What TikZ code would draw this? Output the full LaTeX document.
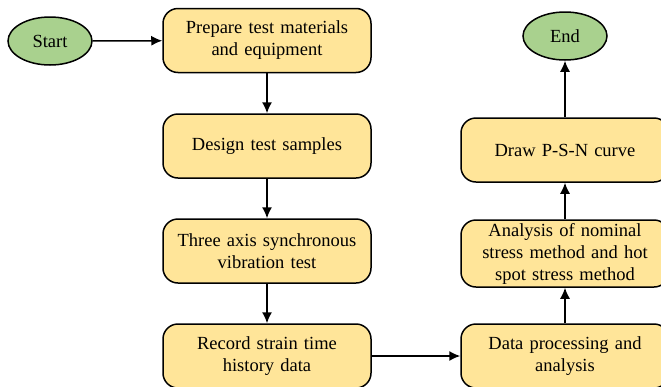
\documentclass[tikz,border=0pt]{standalone}
\usepackage{fontspec}
\setmainfont{Liberation Serif}
\usepackage{tikz}
\usetikzlibrary{shapes}
\usetikzlibrary{shapes.geometric}
\usetikzlibrary{arrows.meta}

\definecolor{boxyellow}{RGB}{255,229,153}
\definecolor{endgreen}{RGB}{169,209,142}

\begin{document}
\begin{tikzpicture}[x=1pt, y=-1pt, >={Latex[length=11pt,width=10pt]}, line width=1.5pt,
	step box/.style={rectangle, rounded corners=15pt, draw, fill=boxyellow, minimum width=208pt, minimum height=64pt, text width=200pt, align=center, inner sep=0pt, font=\fontsize{18.5}{22}\selectfont},
	terminal/.style={ellipse, draw, fill=endgreen, minimum width=84pt, minimum height=48pt, inner sep=0pt, font=\fontsize{18.5}{22}\selectfont}]
					\useasboundingbox (0,0) rectangle (661,386);
					\node[terminal] (s) at (50,41) {Start};
					\node[step box] (1) at (267,40.5) {Prepare test materials\\and equipment};
					\node[step box] (2) at (267,146) {Design test samples};
					\node[step box] (3) at (267,251) {Three axis synchronous\\vibration test};
					\node[step box] (4) at (267,356) {Record strain time\\history data};
					\node[step box] (w1) at (565,356) {Data processing and\\analysis};
					\node[step box, minimum height=67pt] (w2) at (565,253.5) {Analysis of nominal\\stress method and hot\\spot stress method};
					\node[step box] (w3) at (565,150) {Draw P-S-N curve};
					\node[terminal] (t) at (565,36) {End};
					\draw[->] (s) -- (1);
					\draw[->] (1) -- (2);\draw[->] (2) -- (3);\draw[->] (3) -- (4);
					\draw[->] (4) -- (w1);
					\draw[->] (w1) -- (w2);\draw[->] (w2) -- (w3);\draw[->] (w3) -- (t);
				\end{tikzpicture}
\end{document}
